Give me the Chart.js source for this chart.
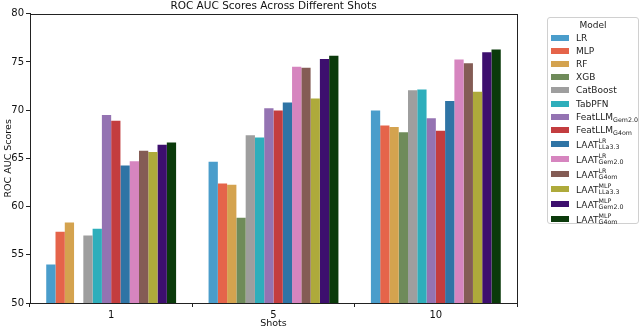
<!DOCTYPE html>
<html>
<head>
<meta charset="utf-8">
<script src="https://cdn.jsdelivr.net/npm/chart.js@4.4.1/dist/chart.umd.min.js"></script>
<style>
  html, body { margin: 0; padding: 0; background: #fff; }
  #wrap { position: relative; width: 640px; height: 329px; font-family: "DejaVu Sans", sans-serif; }
  #c { position: absolute; left: 0; top: 0; }
  #legend { position: absolute; left: 547px; top: 17px; width: 92px; height: 207px;
    border: 1px solid #d0d0d0; border-radius: 3px; background: #fff; box-sizing: border-box; }
  #legend .ttl { position: absolute; left: 0; width: 100%; text-align: center; font-size: 9px; color: #222; }
  #legend .row { position: absolute; left: 0; width: 100%; height: 14px; }
  #legend .sw { position: absolute; left: 3px; width: 18px; height: 6px; }
  #legend .lb { position: absolute; left: 28px; font-size: 9px; color: #222; white-space: nowrap; line-height: 10px; }
  .sub { font-size: 6.3px; position: relative; top: 2px; }
  .stk { display: inline-block; vertical-align: middle; font-size: 6.3px; line-height: 6.3px; position: relative; top: -1px; }
  .stk span { display: block; }
</style>
</head>
<body>
<div id="wrap">
  <canvas id="c" width="640" height="329"></canvas>
  <div id="legend"></div>
</div>
<script>
const shots = ["1", "5", "10"];
const yTicks = [50, 55, 60, 65, 70, 75, 80];
const models = ["LR", "MLP", "RF", "XGB", "CatBoost", "TabPFN",
  "FeatLLM_Gem2.0", "FeatLLM_G4om",
  "LAAT^LR_LLa3.3", "LAAT^LR_Gem2.0", "LAAT^LR_G4om",
  "LAAT^MLP_LLa3.3", "LAAT^MLP_Gem2.0", "LAAT^MLP_G4om"];
const colors = ["#4a9dcb", "#e5644a", "#d4a34f", "#6f8b5a", "#9e9e9e", "#2eaebb",
  "#9473b2", "#c33d3f", "#2f74a5", "#d685bf", "#845c55", "#aeaa3b", "#3d0f6e", "#0b3a0b"];

const vLR          = [54.0, 64.65, 69.95];
const vMLP         = [57.4, 62.4, 68.4];
const vRF          = [58.35, 62.25, 68.25];
const vXGB         = [null, 58.85, 67.7];
const vCatBoost    = [57.0, 67.4, 72.05];
const vTabPFN      = [57.7, 67.15, 72.15];
const vFeatGem     = [69.5, 70.2, 69.15];
const vFeatG4om    = [68.9, 69.95, 67.85];
const vLaatLRLla   = [64.25, 70.8, 70.95];
const vLaatLRGem   = [64.7, 74.5, 75.25];
const vLaatLRG4om  = [65.8, 74.4, 74.85];
const vLaatMLPLla  = [65.65, 71.2, 71.9];
const vLaatMLPGem  = [66.4, 75.3, 76.0];
const vLaatMLPG4om = [66.65, 75.65, 76.3];
const series = [vLR, vMLP, vRF, vXGB, vCatBoost, vTabPFN, vFeatGem, vFeatG4om,
  vLaatLRLla, vLaatLRGem, vLaatLRG4om, vLaatMLPLla, vLaatMLPGem, vLaatMLPG4om];

const FONT = "DejaVu Sans";

const frame = {
  id: "frame",
  afterDraw(chart) {
    const {ctx, chartArea: a} = chart;
    ctx.save();
    ctx.strokeStyle = "#222";
    ctx.lineWidth = 1;
    ctx.strokeRect(Math.round(a.left) + 0.5, Math.round(a.top) + 0.5,
      Math.round(a.right - a.left), Math.round(a.bottom - a.top));
    ctx.fillStyle = "#111";
    ctx.font = "10.5px '" + FONT + "'";
    ctx.textAlign = "center";
    ctx.textBaseline = "middle";
    ctx.fillText("ROC AUC Scores Across Different Shots", (a.left + a.right) / 2, 6.5);
    ctx.restore();
  }
};

new Chart(document.getElementById("c"), {
  type: "bar",
  data: {
    labels: shots,
    datasets: series.map((d, i) => ({
      label: models[i],
      data: d,
      backgroundColor: colors[i],
      borderWidth: 0,
      categoryPercentage: 0.8,
      barPercentage: 1.0
    }))
  },
  options: {
    responsive: false,
    animation: false,
    devicePixelRatio: 1,
    layout: { padding: { top: 13.7, right: 123, left: 0, bottom: 0 } },
    plugins: { legend: { display: false }, tooltip: { enabled: false } },
    scales: {
      x: {
        grid: { display: true, drawOnChartArea: false, drawTicks: true, tickLength: 4, color: "#222" },
        border: { display: true, color: "#222" },
        ticks: { color: "#111", font: { family: FONT, size: 10 }, padding: 2 },
        title: { display: true, text: "Shots", color: "#111", font: { family: FONT, size: 9.5 }, padding: { top: 0, bottom: 0 } },
        afterFit(s) { s.height = 26; }
      },
      y: {
        min: 50, max: 80,
        afterBuildTicks(s) { s.ticks = yTicks.map(v => ({ value: v })); },
        grid: { display: true, drawOnChartArea: false, drawTicks: true, tickLength: 4, color: "#222" },
        border: { display: true, color: "#222" },
        ticks: { color: "#111", font: { family: FONT, size: 10 }, padding: 2 },
        title: { display: true, text: "ROC AUC Scores", color: "#111", font: { family: FONT, size: 9.5 }, padding: { top: 3, bottom: 0 } },
        afterFit(s) { s.width = 30; }
      }
    }
  },
  plugins: [frame]
});

// HTML legend with sub/superscripts
(function () {
  const lg = document.getElementById("legend");
  const t = document.createElement("div");
  t.className = "ttl"; t.style.top = "2px"; t.textContent = "Model";
  lg.appendChild(t);
  let y = 13.5;
  models.forEach((m, i) => {
    const isStk = m.indexOf("^") >= 0;
    const h = isStk ? 15 : 13.1;
    const row = document.createElement("div");
    row.className = "row";
    row.style.top = y + "px";
    const sw = document.createElement("div");
    sw.className = "sw"; sw.style.background = colors[i]; sw.style.top = (h / 2 - 3) + "px";
    const lb = document.createElement("div");
    lb.className = "lb"; lb.style.top = (h / 2 - 5) + "px";
    if (isStk) {
      const base = m.split("^")[0];
      const rest = m.split("^")[1].split("_");
      lb.innerHTML = base + '<span class="stk"><span>' + rest[0] + '</span><span>' + rest[1] + '</span></span>';
    } else if (m.indexOf("_") >= 0) {
      const p = m.split("_");
      lb.innerHTML = p[0] + '<span class="sub">' + p[1] + '</span>';
    } else {
      lb.textContent = m;
    }
    row.appendChild(sw); row.appendChild(lb);
    lg.appendChild(row);
    y += h;
  });
})();
</script>
</body>
</html>
